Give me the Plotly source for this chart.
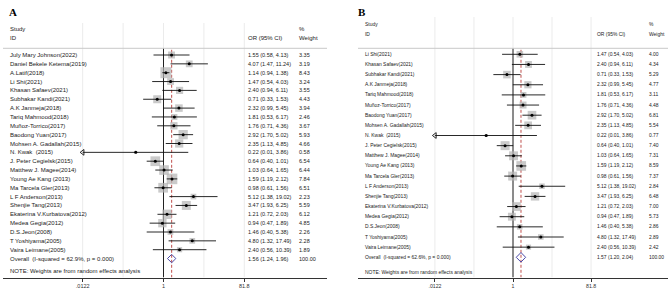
import numpy as np
import plotly.graph_objects as go

# ---------------- Panel A data ----------------
studies_a = ["July Mary Johnson(2022)", "Daniel Bekele Ketema(2019)", "A.Latif(2018)", "Li Shi(2021)",
             "Khasan Safaev(2021)", "Subhakar Kandi(2021)", "A.K Janmeja(2018)", "Tariq Mahmood(2018)",
             "Muñoz-Torrico(2017)", "Baodong Yuan(2017)", "Mohsen A. Gadallah(2015)", "N. Kwak  (2015)",
             "J. Peter Cegielsk(2015)", "Matthew J. Magee(2014)", "Young Ae Kang (2013)", "Ma Tarcela Gler(2013)",
             "L F Anderson(2013)", "Shenjie Tang(2013)", "Ekaterina V.Kurbatova(2012)", "Medea Gegia(2012)",
             "D.S.Jeon(2008)", "T Yoshiyama(2005)", "Vaira Leimane(2005)"]
or_a = [1.55, 4.07, 1.14, 1.47, 2.40, 0.71, 2.32, 1.81, 1.76, 2.92, 2.35, 0.22, 0.64, 1.03, 1.59, 0.98,
        5.12, 3.47, 1.21, 0.94, 1.46, 4.80, 2.40]
lo_a = [0.58, 1.47, 0.94, 0.54, 0.94, 0.33, 0.99, 0.53, 0.71, 1.70, 1.13, 0.01, 0.40, 0.64, 1.19, 0.61,
        1.38, 1.93, 0.72, 0.47, 0.40, 1.32, 0.56]
hi_a = [4.13, 11.24, 1.38, 4.03, 6.11, 1.53, 5.45, 6.17, 4.36, 5.02, 4.85, 3.86, 1.01, 1.65, 2.12, 1.56,
        19.02, 6.25, 2.03, 1.89, 5.38, 17.49, 10.39]
w_a = [3.35, 3.19, 8.43, 3.24, 3.55, 4.43, 3.94, 2.46, 3.67, 5.93, 4.66, 0.58, 6.54, 6.44, 7.84, 6.51,
       2.23, 5.59, 6.12, 4.85, 2.26, 2.28, 1.89]
overall_a = [1.56, 1.24, 1.96]
overall_label_a = "Overall  (I-squared = 62.9%, p = 0.000)"

# ---------------- Panel B data ----------------
studies_b = ["Li Shi(2021)", "Khasan Safaev(2021)", "Subhakar Kandi(2021)", "A.K Janmeja(2018)",
             "Tariq Mahmood(2018)", "Muñoz-Torrico(2017)", "Baodong Yuan(2017)", "Mohsen A. Gadallah(2015)",
             "N. Kwak  (2015)", "J. Peter Cegielsk(2015)", "Matthew J. Magee(2014)", "Young Ae Kang (2013)",
             "Ma Tarcela Gler(2013)", "L F Anderson(2013)", "Shenjie Tang(2013)", "Ekaterina V.Kurbatova(2012)",
             "Medea Gegia(2012)", "D.S.Jeon(2008)", "T Yoshiyama(2005)", "Vaira Leimane(2005)"]
or_b = [1.47, 2.40, 0.71, 2.32, 1.81, 1.76, 2.92, 2.35, 0.22, 0.64, 1.03, 1.59, 0.98, 5.12, 3.47, 1.21,
        0.94, 1.46, 4.80, 2.40]
lo_b = [0.54, 0.94, 0.33, 0.99, 0.53, 0.71, 1.70, 1.13, 0.01, 0.40, 0.64, 1.19, 0.61, 1.38, 1.93, 0.72,
        0.47, 0.40, 1.32, 0.56]
hi_b = [4.03, 6.11, 1.53, 5.45, 6.17, 4.36, 5.02, 4.85, 3.86, 1.01, 1.65, 2.12, 1.56, 19.02, 6.25, 2.03,
        1.89, 5.38, 17.49, 10.39]
w_b = [4.00, 4.34, 5.29, 4.77, 3.11, 4.48, 6.81, 5.54, 0.77, 7.40, 7.31, 8.59, 7.37, 2.84, 6.48, 7.00,
       5.73, 2.86, 2.89, 2.42]
overall_b = [1.57, 1.20, 2.04]
overall_label_b = "Overall  (I-squared = 62.6%, p = 0.000)"

# ---------------- axis ticks ----------------
tick_vals = [0.0122, 1, 81.8]
tick_text = [".0122", "1", "81.8"]
grid_vals = [0.0122, 0.1105, 1, 9.05, 81.8]
note_text = "NOTE: Weights are from random effects analysis"

W, H = 669, 296
AXIS_PX = 277.5

fig = go.Figure()


def add_panel(idx, label, studies, ors, los, his, ws, overall, overall_label, cfg):
    xa = "x" if idx == 1 else "x2"
    ya = "y" if idx == 1 else "y2"
    xname = "xaxis" if idx == 1 else "xaxis2"
    yname = "yaxis" if idx == 1 else "yaxis2"
    n = len(studies)
    rows = list(range(n))
    first, step = cfg["first_px"], cfg["step_px"]

    def prow(px):
        return (px - first) / step

    bottom_row = prow(AXIS_PX)
    xmin = tick_vals[0]

    # grid lines
    for g in grid_vals:
        fig.add_trace(go.Scatter(x=[g, g], y=[prow(cfg["grid_top"]), bottom_row], mode="lines",
                                 line=dict(color="#ebebeb", width=1), xaxis=xa, yaxis=ya,
                                 hoverinfo="skip"))
    # null line
    fig.add_trace(go.Scatter(x=[1, 1], y=[prow(cfg["hline_px"]), bottom_row], mode="lines",
                             line=dict(color="#222", width=1), xaxis=xa, yaxis=ya, hoverinfo="skip"))
    # overall dashed line
    fig.add_trace(go.Scatter(x=[overall[0], overall[0]], y=[prow(cfg["hline_px"] + 1.5), bottom_row],
                             mode="lines", line=dict(color="#c0504d", width=1, dash="3px,2px"),
                             xaxis=xa, yaxis=ya, hoverinfo="skip"))
    # boxes
    fig.add_trace(go.Scatter(x=ors, y=rows, mode="markers",
                             marker=dict(symbol="square", size=[cfg["k"] * np.sqrt(w) for w in ws],
                                         color="#b3b3b3", line=dict(width=0)),
                             xaxis=xa, yaxis=ya, hoverinfo="skip"))
    # CI lines
    cx, cy = [], []
    arrows_x, arrows_y = [], []
    for r, lo, hi in zip(rows, los, his):
        lo_c = max(lo, xmin)
        if lo < xmin:
            arrows_x.append(xmin)
            arrows_y.append(r)
        cx += [lo_c, hi, None]
        cy += [r, r, None]
    fig.add_trace(go.Scatter(x=cx, y=cy, mode="lines", line=dict(color="#111", width=0.9),
                             xaxis=xa, yaxis=ya, hoverinfo="skip"))
    if arrows_x:
        fig.add_trace(go.Scatter(x=arrows_x, y=arrows_y, mode="markers",
                                 marker=dict(symbol="triangle-left-open", size=5, color="#111",
                                             line=dict(width=0.9, color="#111")),
                                 xaxis=xa, yaxis=ya, hoverinfo="skip"))
    # point estimates
    fig.add_trace(go.Scatter(x=ors, y=rows, mode="markers",
                             marker=dict(symbol="circle", size=3, color="#000"),
                             xaxis=xa, yaxis=ya, hoverinfo="skip"))
    # overall diamond
    est, olo, ohi = overall
    h = 0.47
    fig.add_trace(go.Scatter(x=[olo, est, ohi, est, olo], y=[n, n - h, n, n + h, n], mode="lines",
                             line=dict(color="#4a4aa8", width=1), xaxis=xa, yaxis=ya,
                             hoverinfo="skip"))

    # texts
    fn = cfg["font"]
    for r, s, o, lo, hi, w in zip(rows, studies, ors, los, his, ws):
        fig.add_annotation(x=cfg["x_lab"] / W, xref="paper", y=r, yref=ya, text=s, showarrow=False,
                           xanchor="left", yanchor="middle", font=dict(family=fn, size=cfg["fs_lab"], color="#222"))
        fig.add_annotation(x=cfg["x_or"] / W, xref="paper", y=r, yref=ya,
                           text=f"{o:.2f} ({lo:.2f}, {hi:.2f})", showarrow=False,
                           xanchor="left", yanchor="middle", font=dict(family=fn, size=cfg["fs_num"], color="#222"))
        fig.add_annotation(x=cfg["x_w"] / W, xref="paper", y=r, yref=ya, text=f"{w:.2f}", showarrow=False,
                           xanchor="left", yanchor="middle", font=dict(family=fn, size=cfg["fs_num"], color="#222"))
    fig.add_annotation(x=cfg["x_lab"] / W, xref="paper", y=n, yref=ya, text=overall_label, showarrow=False,
                       xanchor="left", yanchor="middle", font=dict(family=fn, size=cfg["fs_lab"], color="#222"))
    fig.add_annotation(x=cfg["x_or"] / W, xref="paper", y=n, yref=ya,
                       text=f"{est:.2f} ({olo:.2f}, {ohi:.2f})", showarrow=False,
                       xanchor="left", yanchor="middle", font=dict(family=fn, size=cfg["fs_num"], color="#222"))
    fig.add_annotation(x=cfg["x_w"] / W, xref="paper", y=n, yref=ya, text="100.00", showarrow=False,
                       xanchor="left", yanchor="middle", font=dict(family=fn, size=cfg["fs_num"], color="#222"))
    fig.add_annotation(x=cfg["x_lab"] / W, xref="paper", y=prow(cfg["note_px"]), yref=ya, text=note_text,
                       showarrow=False, xanchor="left", yanchor="middle",
                       font=dict(family=fn, size=cfg["fs_lab"], color="#222"))
    # headers
    for txt, xp, yp in [("Study", cfg["x_lab"], cfg["h1_px"]), ("ID", cfg["x_lab"], cfg["h2_px"]),
                        ("OR (95% CI)", cfg["x_or"], cfg["h2_px"]), ("%", cfg["x_w"], cfg["h1_px"]),
                        ("Weight", cfg["x_w"], cfg["h2_px"])]:
        fig.add_annotation(x=xp / W, xref="paper", y=1 - yp / H, yref="paper", text=txt, showarrow=False,
                           xanchor="left", yanchor="middle", font=dict(family=fn, size=cfg["fs_lab"], color="#222"))
    # panel label
    fig.add_annotation(x=cfg["x_panel"] / W, xref="paper", y=1 - 12 / H, yref="paper", text=f"<b>{label}</b>",
                       showarrow=False, xanchor="left", yanchor="middle",
                       font=dict(family="Liberation Serif", size=11, color="#000"))
    # header line
    fig.add_shape(type="line", xref=f"{xa} domain", x0=0, x1=1, yref="paper",
                  y0=1 - cfg["hline_px"] / H, y1=1 - cfg["hline_px"] / H,
                  line=dict(color="#c8c8c8", width=1))

    x0p, x1p, px1, ppd = cfg["x0"], cfg["x1"], cfg["px_one"], cfg["ppd"]
    fig.update_layout({
        xname: dict(type="log", domain=[x0p / W, x1p / W], range=[(x0p - px1) / ppd, (x1p - px1) / ppd],
                    tickvals=tick_vals, ticktext=tick_text, ticks="outside", ticklen=3, tickcolor="#333",
                    tickwidth=1, showline=True, linecolor="#333", linewidth=1, showgrid=False,
                    zeroline=False, anchor=ya, fixedrange=True,
                    tickfont=dict(family="Liberation Sans", size=cfg["fs_tick"], color="#333")),
        yname: dict(domain=[1 - AXIS_PX / H, 1], range=[bottom_row, prow(0)], visible=False,
                    anchor=xa, fixedrange=True),
    })


cfg_a = dict(first_px=55.0, step_px=8.85, grid_top=23, hline_px=48.3, note_px=271.0, h1_px=29.3, h2_px=37.7,
             x_lab=8, x_or=246, x_w=297, x_panel=7, x0=3, x1=327, px_one=163.5, ppd=42.24, k=3.8,
             font="Liberation Sans", fs_lab=6.0, fs_num=5.5, fs_tick=5.5)
cfg_b = dict(first_px=54.3, step_px=10.15, grid_top=17, hline_px=48.3, note_px=272.5, h1_px=24.3, h2_px=34.0,
             x_lab=363, x_or=595, x_w=646.5, x_panel=356, x0=358, x1=668, px_one=513.0, ppd=40.8, k=3.3,
             font="Liberation Sans", fs_lab=4.95, fs_num=4.95, fs_tick=5.2)

add_panel(1, "A", studies_a, or_a, lo_a, hi_a, w_a, overall_a, overall_label_a, cfg_a)
add_panel(2, "B", studies_b, or_b, lo_b, hi_b, w_b, overall_b, overall_label_b, cfg_b)

fig.update_layout(width=W, height=H, margin=dict(l=0, r=0, t=0, b=0), paper_bgcolor="white",
                  plot_bgcolor="white", showlegend=False)

fig.write_html("out.html", config={"displayModeBar": False},
               post_script="document.body.style.margin='0';document.body.style.padding='0';")
